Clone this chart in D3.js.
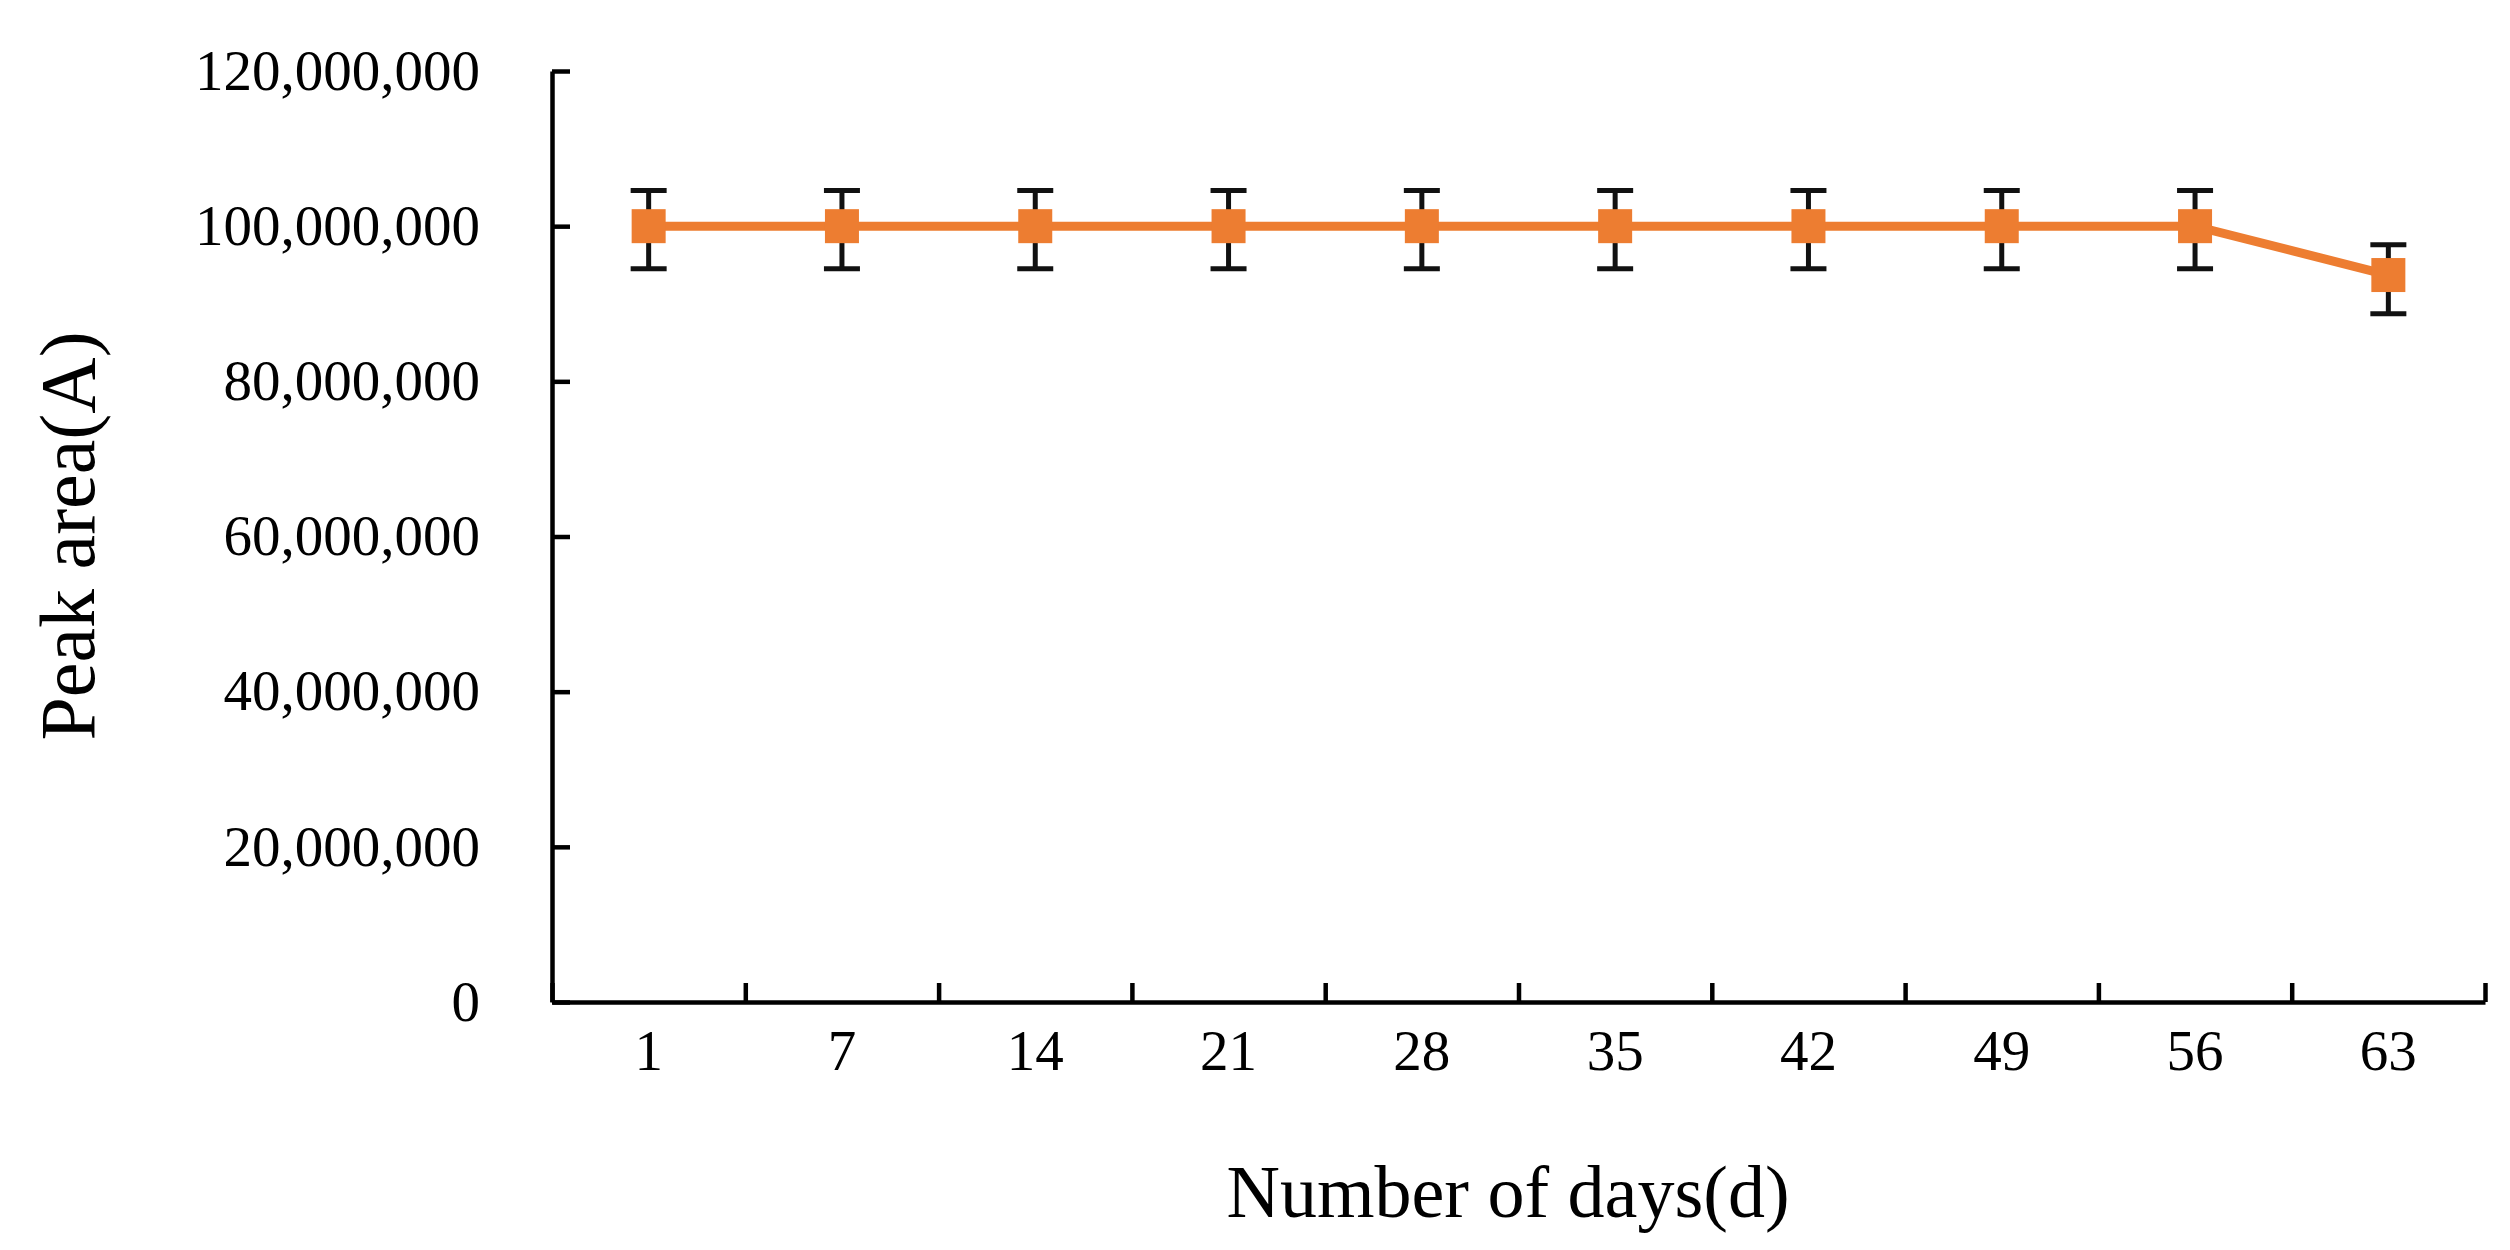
<!DOCTYPE html>
<html><head><meta charset="utf-8">
<script src="https://cdn.jsdelivr.net/npm/d3@7/dist/d3.min.js"></script>
<style>body{margin:0;background:#fff}svg{display:block}</style>
</head><body>
<svg id="c" width="2510" height="1250"></svg>
<script>
const days = ["1","7","14","21","28","35","42","49","56","63"];
const peakArea = [100000000,100000000,100000000,100000000,100000000,100000000,100000000,100000000,100000000,93700000];
const errPlus  = [4600000,4600000,4600000,4600000,4600000,4600000,4600000,4600000,4600000,3900000];
const errMinus = [5500000,5500000,5500000,5500000,5500000,5500000,5500000,5500000,5500000,5000000];
const yTicks = [0,20000000,40000000,60000000,80000000,100000000,120000000];

(function(){
const svg = d3.select("#c");
const pL = 552, pR = 2485, pT = 71, pB = 1002;
const x = d3.scaleBand().domain(days).range([pL, pR]);
const xb = d3.scaleLinear().domain([0, days.length]).range([pL, pR]);
const y = d3.scaleLinear().domain([0, 120000000]).range([pB, pT]);
const font = "'Liberation Serif','Times New Roman',serif";

const ya = svg.append("g").attr("transform", `translate(${pL},0)`)
  .call(d3.axisLeft(y).tickValues(yTicks).tickSizeInner(-18).tickSizeOuter(0).tickPadding(72).tickFormat(d3.format(",")));
ya.select(".domain").attr("stroke","#000").attr("stroke-width",4.5);
ya.selectAll(".tick line").attr("stroke","#000").attr("stroke-width",4.5);
ya.selectAll("text").attr("font-family",font).attr("font-size",57).attr("fill","#000");

const xt = svg.append("g").attr("transform", `translate(0,${pB})`)
  .call(d3.axisBottom(xb).tickValues(d3.range(0, days.length+1)).tickSizeInner(-19).tickSizeOuter(0).tickFormat(""));
xt.select(".domain").attr("stroke","#000").attr("stroke-width",4.5);
xt.selectAll(".tick line").attr("stroke","#000").attr("stroke-width",4.5);
const xl = svg.append("g").attr("transform", `translate(0,${pB})`)
  .call(d3.axisBottom(x).tickSize(0).tickPadding(28));
xl.select(".domain").remove();
xl.selectAll("text").attr("font-family",font).attr("font-size",57).attr("fill","#000");

svg.append("text").attr("x", 1508).attr("y", 1217).attr("text-anchor","middle")
  .attr("font-family",font).attr("font-size",74).attr("fill","#000").text("Number of days(d)");
svg.append("text").attr("transform", `translate(94,536) rotate(-90)`).attr("text-anchor","middle")
  .attr("font-family",font).attr("font-size",78).attr("fill","#000").text("Peak area(A)");

const data = days.map((d,i)=>({d, v:peakArea[i], p:errPlus[i], m:errMinus[i]}));
const cx = d => x(d.d) + x.bandwidth()/2;

svg.append("path").datum(data)
  .attr("d", d3.line().x(cx).y(d=>y(d.v)))
  .attr("fill","none").attr("stroke","#ED7D31").attr("stroke-width",9);

const eb = svg.append("g").selectAll("g").data(data).join("g");
eb.append("line").attr("x1",cx).attr("x2",cx).attr("y1",d=>y(d.v+d.p)).attr("y2",d=>y(d.v-d.m))
  .attr("stroke","#111").attr("stroke-width",5);
eb.append("line").attr("x1",d=>cx(d)-18).attr("x2",d=>cx(d)+18).attr("y1",d=>y(d.v+d.p)).attr("y2",d=>y(d.v+d.p))
  .attr("stroke","#111").attr("stroke-width",5);
eb.append("line").attr("x1",d=>cx(d)-18).attr("x2",d=>cx(d)+18).attr("y1",d=>y(d.v-d.m)).attr("y2",d=>y(d.v-d.m))
  .attr("stroke","#111").attr("stroke-width",5);

svg.append("g").selectAll("rect").data(data).join("rect")
  .attr("x",d=>cx(d)-17).attr("y",d=>y(d.v)-17).attr("width",34).attr("height",34)
  .attr("fill","#ED7D31");
})();
</script>
</body></html>
